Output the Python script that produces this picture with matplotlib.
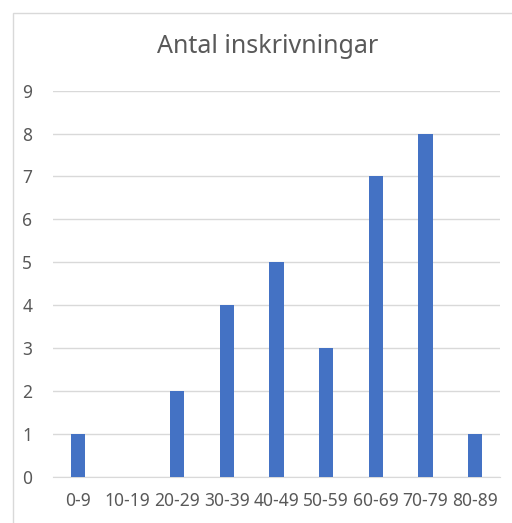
import matplotlib
matplotlib.use("Agg")
import matplotlib.pyplot as plt
from matplotlib.patches import Rectangle

categories = ["0-9", "10-19", "20-29", "30-39", "40-49", "50-59", "60-69", "70-79", "80-89"]
values = [1, 0, 2, 4, 5, 3, 7, 8, 1]
yticks = list(range(0, 10))
title = "Antal inskrivningar"

plt.rcParams['font.family'] = ['Noto Sans', 'DejaVu Sans']
W, H = 512, 523
fig = plt.figure(figsize=(W / 100, H / 100), dpi=100)
fig.patch.set_facecolor("white")

# outer chart frame
fig.patches.append(Rectangle((13 / W, -0.05), 1.2, 1 - 12.5 / H + 0.05,
                             transform=fig.transFigure, fill=False,
                             edgecolor="#D9D9D9", linewidth=1.0))

ax = fig.add_axes([53 / W, 46.3 / H, (500 - 53) / W, (476.7 - 90.7) / H])
x = range(len(categories))
ax.bar(x, values, width=0.29, color="#4472C4", zorder=3)
ax.set_xlim(-0.5, len(categories) - 0.5)
ax.set_ylim(0, 9)
ax.set_yticks(yticks)
ax.set_xticks(list(x))
ax.set_xticklabels(categories)
ax.grid(axis="y", color="#D9D9D9", linewidth=1.0, zorder=0)
for s in ["top", "right", "left"]:
    ax.spines[s].set_visible(False)
ax.spines["bottom"].set_color("#D9D9D9")
ax.tick_params(axis="both", length=0, colors="#595959", labelsize=12.5)
ax.tick_params(axis="x", pad=11)
ax.tick_params(axis="y", pad=15)
fig.text(268 / W, 1 - 53 / H, title, ha="center", va="baseline",
         fontsize=18, color="#595959")

fig.savefig("out.png", dpi=100)
